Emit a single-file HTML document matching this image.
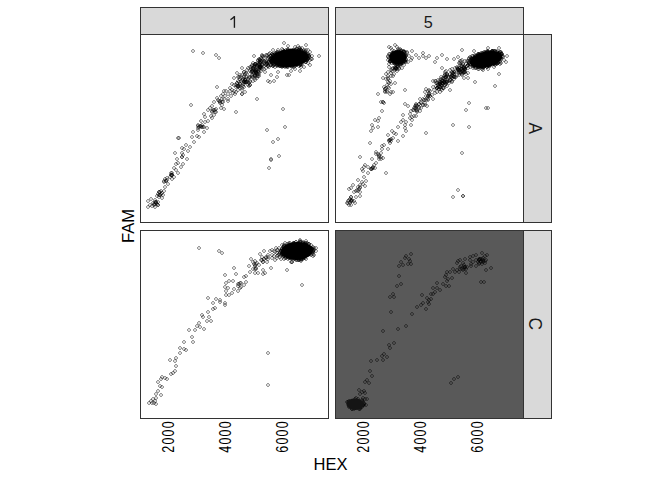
<!DOCTYPE html>
<html><head><meta charset="utf-8"><style>
html,body{margin:0;padding:0;background:#fff;}
svg{display:block;}
text{font-family:"Liberation Sans",sans-serif;}
</style></head><body>
<svg width="672" height="480" viewBox="0 0 672 480">
<rect x="0" y="0" width="672" height="480" fill="#fff"/>
<!-- strips top -->
<rect x="140.5" y="7.5" width="188" height="27" fill="#d9d9d9" stroke="#333" stroke-width="1"/>
<rect x="335.5" y="7.5" width="188" height="27" fill="#d9d9d9" stroke="#333" stroke-width="1"/>
<!-- strips right -->
<rect x="523.5" y="34.5" width="28" height="188" fill="#d9d9d9" stroke="#333" stroke-width="1"/>
<rect x="523.5" y="230.5" width="28" height="188" fill="#d9d9d9" stroke="#333" stroke-width="1"/>
<!-- panels -->
<rect x="140.5" y="34.5" width="188" height="188" fill="#fff"/>
<rect x="335.5" y="34.5" width="188" height="188" fill="#fff"/>
<rect x="140.5" y="230.5" width="188" height="188" fill="#fff"/>
<rect x="335.5" y="230.5" width="188" height="188" fill="#595959"/>
<defs><g id="p"><path d="M1 0h2v1h-2zM1 3h2v1h-2zM0 1h1v2h-1zM3 1h1v2h-1z" fill-opacity=".4"/><rect x="1" y="1" width="2" height="2" fill-opacity=".15"/></g></defs>
<g fill="#000">
<use href="#p" x="191" y="49"/><use href="#p" x="201" y="51"/><use href="#p" x="214" y="53"/><use href="#p" x="217" y="56"/><use href="#p" x="252" y="54"/><use href="#p" x="240" y="66"/><use href="#p" x="246" y="66"/><use href="#p" x="235" y="71"/><use href="#p" x="232" y="76"/><use href="#p" x="215" y="85"/><use href="#p" x="222" y="89"/><use href="#p" x="247" y="84"/><use href="#p" x="242" y="70"/><use href="#p" x="243" y="72"/><use href="#p" x="249" y="67"/><use href="#p" x="252" y="64"/><use href="#p" x="250" y="70"/><use href="#p" x="253" y="72"/><use href="#p" x="250" y="75"/><use href="#p" x="247" y="76"/><use href="#p" x="244" y="77"/><use href="#p" x="241" y="77"/><use href="#p" x="238" y="75"/><use href="#p" x="239" y="79"/><use href="#p" x="236" y="79"/><use href="#p" x="235" y="81"/><use href="#p" x="230" y="82"/><use href="#p" x="232" y="83"/><use href="#p" x="234" y="85"/><use href="#p" x="238" y="84"/><use href="#p" x="242" y="82"/><use href="#p" x="246" y="80"/><use href="#p" x="248" y="79"/><use href="#p" x="253" y="78"/><use href="#p" x="240" y="92"/><use href="#p" x="240" y="92"/><use href="#p" x="230" y="88"/><use href="#p" x="228" y="86"/><use href="#p" x="224" y="89"/><use href="#p" x="221" y="92"/><use href="#p" x="219" y="94"/><use href="#p" x="226" y="92"/><use href="#p" x="229" y="94"/><use href="#p" x="231" y="91"/><use href="#p" x="234" y="90"/><use href="#p" x="236" y="88"/><use href="#p" x="255" y="97"/><use href="#p" x="217" y="99"/><use href="#p" x="218" y="101"/><use href="#p" x="212" y="100"/><use href="#p" x="220" y="103"/><use href="#p" x="222" y="107"/><use href="#p" x="213" y="108"/><use href="#p" x="210" y="104"/><use href="#p" x="208" y="106"/><use href="#p" x="206" y="108"/><use href="#p" x="210" y="110"/><use href="#p" x="212" y="113"/><use href="#p" x="209" y="114"/><use href="#p" x="202" y="112"/><use href="#p" x="203" y="115"/><use href="#p" x="234" y="110"/><use href="#p" x="226" y="97"/><use href="#p" x="222" y="97"/><use href="#p" x="215" y="96"/><use href="#p" x="236" y="75"/><use href="#p" x="228" y="89"/><use href="#p" x="232" y="89"/><use href="#p" x="233" y="92"/><use href="#p" x="223" y="94"/><use href="#p" x="220" y="97"/><use href="#p" x="189" y="103"/><use href="#p" x="219" y="106"/><use href="#p" x="213" y="110"/><use href="#p" x="210" y="116"/><use href="#p" x="199" y="119"/><use href="#p" x="206" y="119"/><use href="#p" x="203" y="120"/><use href="#p" x="196" y="123"/><use href="#p" x="198" y="124"/><use href="#p" x="200" y="125"/><use href="#p" x="205" y="126"/><use href="#p" x="196" y="126"/><use href="#p" x="191" y="130"/><use href="#p" x="202" y="130"/><use href="#p" x="195" y="134"/><use href="#p" x="197" y="135"/><use href="#p" x="190" y="135"/><use href="#p" x="176" y="136"/><use href="#p" x="196" y="128"/><use href="#p" x="202" y="125"/><use href="#p" x="192" y="140"/><use href="#p" x="184" y="143"/><use href="#p" x="188" y="145"/><use href="#p" x="180" y="146"/><use href="#p" x="182" y="147"/><use href="#p" x="186" y="149"/><use href="#p" x="173" y="151"/><use href="#p" x="180" y="151"/><use href="#p" x="181" y="153"/><use href="#p" x="180" y="155"/><use href="#p" x="180" y="155"/><use href="#p" x="185" y="157"/><use href="#p" x="175" y="157"/><use href="#p" x="176" y="161"/><use href="#p" x="174" y="162"/><use href="#p" x="181" y="162"/><use href="#p" x="179" y="165"/><use href="#p" x="172" y="166"/><use href="#p" x="174" y="168"/><use href="#p" x="176" y="171"/><use href="#p" x="170" y="171"/><use href="#p" x="169" y="173"/><use href="#p" x="168" y="175"/><use href="#p" x="172" y="175"/><use href="#p" x="170" y="177"/><use href="#p" x="163" y="177"/><use href="#p" x="162" y="179"/><use href="#p" x="164" y="179"/><use href="#p" x="166" y="182"/><use href="#p" x="163" y="185"/><use href="#p" x="159" y="189"/><use href="#p" x="157" y="190"/><use href="#p" x="156" y="192"/><use href="#p" x="158" y="193"/><use href="#p" x="161" y="193"/><use href="#p" x="155" y="194"/><use href="#p" x="157" y="195"/><use href="#p" x="160" y="196"/><use href="#p" x="162" y="189"/><use href="#p" x="149" y="197"/><use href="#p" x="146" y="199"/><use href="#p" x="153" y="198"/><use href="#p" x="154" y="200"/><use href="#p" x="151" y="201"/><use href="#p" x="152" y="203"/><use href="#p" x="150" y="204"/><use href="#p" x="146" y="205"/><use href="#p" x="148" y="203"/><use href="#p" x="153" y="205"/><use href="#p" x="156" y="203"/><use href="#p" x="281" y="107"/><use href="#p" x="275" y="75"/><use href="#p" x="272" y="79"/><use href="#p" x="266" y="79"/><use href="#p" x="268" y="80"/><use href="#p" x="276" y="70"/><use href="#p" x="269" y="73"/><use href="#p" x="226" y="99"/><use href="#p" x="265" y="128"/><use href="#p" x="283" y="125"/><use href="#p" x="276" y="137"/><use href="#p" x="271" y="140"/><use href="#p" x="277" y="154"/><use href="#p" x="269" y="158"/><use href="#p" x="267" y="166"/><use href="#p" x="282" y="41"/><use href="#p" x="286" y="44"/><use href="#p" x="296" y="44"/><use href="#p" x="304" y="43"/><use href="#p" x="300" y="46"/><use href="#p" x="306" y="48"/><use href="#p" x="310" y="54"/><use href="#p" x="317" y="54"/><use href="#p" x="308" y="63"/><use href="#p" x="308" y="58"/><use href="#p" x="298" y="69"/><use href="#p" x="289" y="69"/><use href="#p" x="285" y="73"/><use href="#p" x="287" y="73"/><use href="#p" x="271" y="48"/><use href="#p" x="275" y="50"/><use href="#p" x="293" y="67"/><use href="#p" x="302" y="65"/>
<use href="#p" x="387" y="45"/><use href="#p" x="389" y="46"/><use href="#p" x="393" y="43"/><use href="#p" x="395" y="45"/><use href="#p" x="398" y="47"/><use href="#p" x="402" y="49"/><use href="#p" x="405" y="50"/><use href="#p" x="407" y="54"/><use href="#p" x="410" y="49"/><use href="#p" x="414" y="53"/><use href="#p" x="417" y="56"/><use href="#p" x="421" y="51"/><use href="#p" x="421" y="54"/><use href="#p" x="410" y="56"/><use href="#p" x="409" y="58"/><use href="#p" x="406" y="60"/><use href="#p" x="402" y="63"/><use href="#p" x="400" y="66"/><use href="#p" x="397" y="67"/><use href="#p" x="395" y="69"/><use href="#p" x="393" y="68"/><use href="#p" x="390" y="67"/><use href="#p" x="387" y="65"/><use href="#p" x="387" y="62"/><use href="#p" x="386" y="58"/><use href="#p" x="386" y="54"/><use href="#p" x="396" y="65"/><use href="#p" x="391" y="74"/><use href="#p" x="386" y="70"/><use href="#p" x="384" y="72"/><use href="#p" x="381" y="76"/><use href="#p" x="386" y="76"/><use href="#p" x="424" y="56"/><use href="#p" x="427" y="54"/><use href="#p" x="395" y="67"/><use href="#p" x="384" y="77"/><use href="#p" x="386" y="80"/><use href="#p" x="393" y="81"/><use href="#p" x="389" y="82"/><use href="#p" x="382" y="85"/><use href="#p" x="383" y="87"/><use href="#p" x="387" y="86"/><use href="#p" x="389" y="90"/><use href="#p" x="388" y="92"/><use href="#p" x="391" y="90"/><use href="#p" x="376" y="92"/><use href="#p" x="403" y="88"/><use href="#p" x="379" y="100"/><use href="#p" x="382" y="101"/><use href="#p" x="380" y="109"/><use href="#p" x="377" y="116"/><use href="#p" x="373" y="118"/><use href="#p" x="376" y="119"/><use href="#p" x="370" y="123"/><use href="#p" x="376" y="125"/><use href="#p" x="371" y="126"/><use href="#p" x="403" y="102"/><use href="#p" x="406" y="104"/><use href="#p" x="401" y="113"/><use href="#p" x="401" y="118"/><use href="#p" x="399" y="120"/><use href="#p" x="403" y="123"/><use href="#p" x="396" y="125"/><use href="#p" x="404" y="120"/><use href="#p" x="408" y="112"/><use href="#p" x="409" y="109"/><use href="#p" x="410" y="118"/><use href="#p" x="409" y="123"/><use href="#p" x="412" y="114"/><use href="#p" x="411" y="108"/><use href="#p" x="413" y="106"/><use href="#p" x="415" y="104"/><use href="#p" x="417" y="106"/><use href="#p" x="417" y="102"/><use href="#p" x="419" y="101"/><use href="#p" x="421" y="97"/><use href="#p" x="421" y="103"/><use href="#p" x="425" y="104"/><use href="#p" x="424" y="98"/><use href="#p" x="425" y="96"/><use href="#p" x="423" y="90"/><use href="#p" x="424" y="87"/><use href="#p" x="426" y="89"/><use href="#p" x="427" y="92"/><use href="#p" x="428" y="94"/><use href="#p" x="414" y="114"/><use href="#p" x="408" y="116"/><use href="#p" x="460" y="48"/><use href="#p" x="472" y="49"/><use href="#p" x="435" y="56"/><use href="#p" x="440" y="53"/><use href="#p" x="433" y="60"/><use href="#p" x="445" y="57"/><use href="#p" x="452" y="57"/><use href="#p" x="456" y="55"/><use href="#p" x="505" y="54"/><use href="#p" x="504" y="60"/><use href="#p" x="497" y="46"/><use href="#p" x="486" y="46"/><use href="#p" x="497" y="72"/><use href="#p" x="493" y="84"/><use href="#p" x="473" y="80"/><use href="#p" x="467" y="101"/><use href="#p" x="464" y="108"/><use href="#p" x="484" y="106"/><use href="#p" x="486" y="106"/><use href="#p" x="451" y="123"/><use href="#p" x="467" y="125"/><use href="#p" x="448" y="88"/><use href="#p" x="466" y="76"/><use href="#p" x="462" y="76"/><use href="#p" x="369" y="129"/><use href="#p" x="390" y="129"/><use href="#p" x="392" y="131"/><use href="#p" x="394" y="132"/><use href="#p" x="386" y="133"/><use href="#p" x="403" y="126"/><use href="#p" x="404" y="129"/><use href="#p" x="401" y="134"/><use href="#p" x="396" y="139"/><use href="#p" x="424" y="131"/><use href="#p" x="368" y="141"/><use href="#p" x="389" y="137"/><use href="#p" x="387" y="139"/><use href="#p" x="388" y="141"/><use href="#p" x="382" y="143"/><use href="#p" x="380" y="144"/><use href="#p" x="386" y="147"/><use href="#p" x="380" y="147"/><use href="#p" x="374" y="150"/><use href="#p" x="376" y="152"/><use href="#p" x="377" y="154"/><use href="#p" x="379" y="155"/><use href="#p" x="381" y="156"/><use href="#p" x="379" y="157"/><use href="#p" x="358" y="155"/><use href="#p" x="370" y="157"/><use href="#p" x="374" y="161"/><use href="#p" x="372" y="163"/><use href="#p" x="371" y="166"/><use href="#p" x="369" y="167"/><use href="#p" x="363" y="163"/><use href="#p" x="362" y="165"/><use href="#p" x="366" y="165"/><use href="#p" x="360" y="167"/><use href="#p" x="361" y="169"/><use href="#p" x="366" y="171"/><use href="#p" x="384" y="171"/><use href="#p" x="362" y="175"/><use href="#p" x="356" y="178"/><use href="#p" x="364" y="179"/><use href="#p" x="360" y="180"/><use href="#p" x="361" y="182"/><use href="#p" x="363" y="184"/><use href="#p" x="358" y="183"/><use href="#p" x="351" y="183"/><use href="#p" x="356" y="185"/><use href="#p" x="349" y="186"/><use href="#p" x="347" y="187"/><use href="#p" x="354" y="189"/><use href="#p" x="352" y="190"/><use href="#p" x="358" y="194"/><use href="#p" x="354" y="195"/><use href="#p" x="349" y="195"/><use href="#p" x="348" y="197"/><use href="#p" x="346" y="199"/><use href="#p" x="345" y="201"/><use href="#p" x="348" y="201"/><use href="#p" x="350" y="199"/><use href="#p" x="353" y="201"/><use href="#p" x="347" y="203"/><use href="#p" x="349" y="203"/><use href="#p" x="460" y="151"/><use href="#p" x="456" y="188"/><use href="#p" x="451" y="195"/><use href="#p" x="461" y="194"/><use href="#p" x="461" y="194"/><use href="#p" x="440" y="66"/><use href="#p" x="443" y="70"/><use href="#p" x="445" y="73"/><use href="#p" x="448" y="68"/><use href="#p" x="450" y="71"/><use href="#p" x="453" y="70"/><use href="#p" x="456" y="66"/><use href="#p" x="457" y="70"/><use href="#p" x="460" y="63"/><use href="#p" x="453" y="75"/><use href="#p" x="448" y="78"/><use href="#p" x="443" y="80"/><use href="#p" x="441" y="76"/><use href="#p" x="439" y="75"/><use href="#p" x="436" y="78"/><use href="#p" x="435" y="81"/><use href="#p" x="431" y="79"/><use href="#p" x="431" y="85"/><use href="#p" x="435" y="86"/><use href="#p" x="438" y="85"/><use href="#p" x="440" y="81"/><use href="#p" x="443" y="83"/><use href="#p" x="438" y="90"/><use href="#p" x="435" y="90"/><use href="#p" x="433" y="91"/><use href="#p" x="430" y="93"/><use href="#p" x="431" y="97"/><use href="#p" x="428" y="89"/><use href="#p" x="426" y="94"/><use href="#p" x="410" y="115"/>
<use href="#p" x="232" y="266"/><use href="#p" x="234" y="272"/><use href="#p" x="231" y="279"/><use href="#p" x="232" y="287"/><use href="#p" x="236" y="289"/><use href="#p" x="237" y="282"/><use href="#p" x="239" y="281"/><use href="#p" x="239" y="285"/><use href="#p" x="242" y="275"/><use href="#p" x="244" y="274"/><use href="#p" x="244" y="280"/><use href="#p" x="247" y="264"/><use href="#p" x="248" y="270"/><use href="#p" x="249" y="257"/><use href="#p" x="251" y="267"/><use href="#p" x="253" y="259"/><use href="#p" x="255" y="261"/><use href="#p" x="256" y="271"/><use href="#p" x="253" y="271"/><use href="#p" x="257" y="263"/><use href="#p" x="258" y="252"/><use href="#p" x="259" y="258"/><use href="#p" x="260" y="255"/><use href="#p" x="261" y="268"/><use href="#p" x="261" y="272"/><use href="#p" x="262" y="249"/><use href="#p" x="262" y="257"/><use href="#p" x="263" y="271"/><use href="#p" x="264" y="256"/><use href="#p" x="265" y="260"/><use href="#p" x="266" y="253"/><use href="#p" x="268" y="249"/><use href="#p" x="269" y="266"/><use href="#p" x="270" y="256"/><use href="#p" x="270" y="248"/><use href="#p" x="272" y="254"/><use href="#p" x="273" y="258"/><use href="#p" x="274" y="246"/><use href="#p" x="275" y="256"/><use href="#p" x="276" y="248"/><use href="#p" x="279" y="257"/><use href="#p" x="280" y="243"/><use href="#p" x="283" y="241"/><use href="#p" x="285" y="268"/><use href="#p" x="289" y="260"/><use href="#p" x="298" y="238"/><use href="#p" x="300" y="283"/><use href="#p" x="311" y="245"/><use href="#p" x="312" y="253"/><use href="#p" x="197" y="246"/><use href="#p" x="217" y="249"/><use href="#p" x="220" y="251"/><use href="#p" x="223" y="273"/><use href="#p" x="227" y="279"/><use href="#p" x="224" y="281"/><use href="#p" x="223" y="285"/><use href="#p" x="226" y="286"/><use href="#p" x="224" y="289"/><use href="#p" x="230" y="291"/><use href="#p" x="227" y="293"/><use href="#p" x="224" y="293"/><use href="#p" x="206" y="296"/><use href="#p" x="214" y="297"/><use href="#p" x="218" y="298"/><use href="#p" x="218" y="300"/><use href="#p" x="211" y="301"/><use href="#p" x="223" y="301"/><use href="#p" x="223" y="303"/><use href="#p" x="213" y="306"/><use href="#p" x="211" y="307"/><use href="#p" x="206" y="310"/><use href="#p" x="200" y="313"/><use href="#p" x="201" y="315"/><use href="#p" x="207" y="315"/><use href="#p" x="205" y="319"/><use href="#p" x="209" y="319"/><use href="#p" x="197" y="321"/><use href="#p" x="195" y="324"/><use href="#p" x="193" y="328"/><use href="#p" x="198" y="325"/><use href="#p" x="202" y="327"/><use href="#p" x="187" y="328"/><use href="#p" x="190" y="335"/><use href="#p" x="191" y="340"/><use href="#p" x="182" y="340"/><use href="#p" x="178" y="346"/><use href="#p" x="182" y="347"/><use href="#p" x="184" y="348"/><use href="#p" x="178" y="351"/><use href="#p" x="174" y="356"/><use href="#p" x="173" y="359"/><use href="#p" x="168" y="358"/><use href="#p" x="174" y="364"/><use href="#p" x="173" y="369"/><use href="#p" x="171" y="371"/><use href="#p" x="169" y="372"/><use href="#p" x="160" y="375"/><use href="#p" x="163" y="376"/><use href="#p" x="165" y="377"/><use href="#p" x="159" y="377"/><use href="#p" x="156" y="380"/><use href="#p" x="158" y="384"/><use href="#p" x="160" y="385"/><use href="#p" x="156" y="389"/><use href="#p" x="154" y="392"/><use href="#p" x="159" y="393"/><use href="#p" x="154" y="396"/><use href="#p" x="151" y="397"/><use href="#p" x="149" y="399"/><use href="#p" x="147" y="401"/><use href="#p" x="150" y="401"/><use href="#p" x="152" y="401"/><use href="#p" x="154" y="402"/><use href="#p" x="153" y="399"/><use href="#p" x="266" y="351"/><use href="#p" x="266" y="383"/>
<use href="#p" x="409" y="252"/><use href="#p" x="404" y="254"/><use href="#p" x="403" y="256"/><use href="#p" x="407" y="257"/><use href="#p" x="408" y="259"/><use href="#p" x="399" y="260"/><use href="#p" x="406" y="262"/><use href="#p" x="409" y="262"/><use href="#p" x="401" y="263"/><use href="#p" x="397" y="264"/><use href="#p" x="397" y="274"/><use href="#p" x="399" y="282"/><use href="#p" x="395" y="284"/><use href="#p" x="391" y="292"/><use href="#p" x="388" y="295"/><use href="#p" x="392" y="295"/><use href="#p" x="389" y="310"/><use href="#p" x="404" y="324"/><use href="#p" x="420" y="293"/><use href="#p" x="425" y="296"/><use href="#p" x="429" y="292"/><use href="#p" x="421" y="301"/><use href="#p" x="419" y="303"/><use href="#p" x="426" y="300"/><use href="#p" x="415" y="305"/><use href="#p" x="424" y="307"/><use href="#p" x="410" y="312"/><use href="#p" x="480" y="251"/><use href="#p" x="474" y="253"/><use href="#p" x="471" y="254"/><use href="#p" x="485" y="253"/><use href="#p" x="468" y="255"/><use href="#p" x="483" y="254"/><use href="#p" x="481" y="256"/><use href="#p" x="478" y="257"/><use href="#p" x="484" y="258"/><use href="#p" x="479" y="259"/><use href="#p" x="476" y="260"/><use href="#p" x="474" y="258"/><use href="#p" x="481" y="260"/><use href="#p" x="483" y="261"/><use href="#p" x="477" y="262"/><use href="#p" x="480" y="262"/><use href="#p" x="471" y="260"/><use href="#p" x="469" y="262"/><use href="#p" x="468" y="258"/><use href="#p" x="474" y="264"/><use href="#p" x="469" y="264"/><use href="#p" x="463" y="257"/><use href="#p" x="458" y="258"/><use href="#p" x="456" y="259"/><use href="#p" x="455" y="261"/><use href="#p" x="461" y="261"/><use href="#p" x="462" y="263"/><use href="#p" x="459" y="264"/><use href="#p" x="463" y="265"/><use href="#p" x="464" y="267"/><use href="#p" x="458" y="267"/><use href="#p" x="461" y="268"/><use href="#p" x="464" y="271"/><use href="#p" x="457" y="270"/><use href="#p" x="453" y="270"/><use href="#p" x="455" y="268"/><use href="#p" x="451" y="267"/><use href="#p" x="448" y="270"/><use href="#p" x="445" y="270"/><use href="#p" x="444" y="273"/><use href="#p" x="443" y="275"/><use href="#p" x="450" y="276"/><use href="#p" x="446" y="277"/><use href="#p" x="445" y="279"/><use href="#p" x="447" y="284"/><use href="#p" x="444" y="284"/><use href="#p" x="441" y="282"/><use href="#p" x="435" y="281"/><use href="#p" x="435" y="286"/><use href="#p" x="438" y="288"/><use href="#p" x="431" y="286"/><use href="#p" x="433" y="290"/><use href="#p" x="431" y="292"/><use href="#p" x="429" y="297"/><use href="#p" x="427" y="298"/><use href="#p" x="427" y="302"/><use href="#p" x="484" y="268"/><use href="#p" x="489" y="266"/><use href="#p" x="479" y="280"/><use href="#p" x="482" y="280"/><use href="#p" x="396" y="327"/><use href="#p" x="381" y="329"/><use href="#p" x="392" y="341"/><use href="#p" x="387" y="343"/><use href="#p" x="388" y="346"/><use href="#p" x="382" y="352"/><use href="#p" x="380" y="354"/><use href="#p" x="385" y="355"/><use href="#p" x="381" y="358"/><use href="#p" x="375" y="358"/><use href="#p" x="369" y="359"/><use href="#p" x="368" y="369"/><use href="#p" x="370" y="374"/><use href="#p" x="365" y="378"/><use href="#p" x="363" y="380"/><use href="#p" x="367" y="381"/><use href="#p" x="357" y="388"/><use href="#p" x="362" y="389"/><use href="#p" x="363" y="391"/><use href="#p" x="358" y="392"/><use href="#p" x="361" y="396"/><use href="#p" x="363" y="397"/><use href="#p" x="365" y="397"/><use href="#p" x="354" y="396"/><use href="#p" x="360" y="398"/><use href="#p" x="364" y="403"/><use href="#p" x="360" y="390"/><use href="#p" x="449" y="381"/><use href="#p" x="452" y="377"/><use href="#p" x="456" y="375"/>
<use href="#p" x="302" y="242"/><use href="#p" x="295" y="258"/><use href="#p" x="281" y="252"/><use href="#p" x="298" y="240"/><use href="#p" x="308" y="250"/><use href="#p" x="280" y="253"/><use href="#p" x="311" y="248"/><use href="#p" x="292" y="241"/><use href="#p" x="308" y="246"/><use href="#p" x="311" y="250"/><use href="#p" x="282" y="248"/><use href="#p" x="283" y="256"/><use href="#p" x="283" y="253"/><use href="#p" x="298" y="256"/><use href="#p" x="280" y="250"/><use href="#p" x="297" y="257"/><use href="#p" x="282" y="252"/><use href="#p" x="309" y="249"/><use href="#p" x="280" y="247"/><use href="#p" x="301" y="257"/><use href="#p" x="305" y="241"/><use href="#p" x="289" y="256"/><use href="#p" x="291" y="241"/><use href="#p" x="281" y="254"/><use href="#p" x="287" y="241"/><use href="#p" x="283" y="246"/><use href="#p" x="304" y="241"/><use href="#p" x="282" y="245"/><use href="#p" x="296" y="256"/><use href="#p" x="282" y="254"/><use href="#p" x="282" y="247"/><use href="#p" x="287" y="242"/><use href="#p" x="282" y="253"/><use href="#p" x="297" y="241"/><use href="#p" x="284" y="255"/><use href="#p" x="310" y="250"/><use href="#p" x="291" y="242"/><use href="#p" x="281" y="245"/><use href="#p" x="302" y="256"/><use href="#p" x="310" y="247"/><use href="#p" x="280" y="248"/><use href="#p" x="297" y="258"/><use href="#p" x="309" y="246"/><use href="#p" x="281" y="252"/><use href="#p" x="282" y="247"/><use href="#p" x="312" y="248"/><use href="#p" x="301" y="241"/><use href="#p" x="294" y="240"/><use href="#p" x="279" y="249"/><use href="#p" x="282" y="253"/><use href="#p" x="304" y="243"/><use href="#p" x="300" y="257"/><use href="#p" x="280" y="251"/><use href="#p" x="287" y="256"/><use href="#p" x="284" y="244"/><use href="#p" x="280" y="252"/><use href="#p" x="297" y="256"/><use href="#p" x="283" y="246"/><use href="#p" x="299" y="240"/><use href="#p" x="301" y="240"/><use href="#p" x="302" y="242"/><use href="#p" x="309" y="253"/><use href="#p" x="308" y="249"/><use href="#p" x="296" y="258"/><use href="#p" x="285" y="244"/><use href="#p" x="308" y="252"/><use href="#p" x="282" y="248"/><use href="#p" x="293" y="257"/><use href="#p" x="280" y="252"/><use href="#p" x="281" y="251"/><use href="#p" x="286" y="254"/><use href="#p" x="301" y="256"/><use href="#p" x="305" y="244"/><use href="#p" x="299" y="257"/><use href="#p" x="301" y="241"/><use href="#p" x="308" y="249"/><use href="#p" x="292" y="242"/><use href="#p" x="291" y="242"/><use href="#p" x="280" y="247"/><use href="#p" x="308" y="247"/><use href="#p" x="279" y="249"/><use href="#p" x="287" y="243"/><use href="#p" x="282" y="246"/><use href="#p" x="285" y="244"/><use href="#p" x="291" y="256"/><use href="#p" x="306" y="242"/><use href="#p" x="304" y="242"/><use href="#p" x="308" y="245"/><use href="#p" x="282" y="254"/><use href="#p" x="309" y="249"/><use href="#p" x="311" y="250"/><use href="#p" x="310" y="246"/><use href="#p" x="303" y="256"/><use href="#p" x="311" y="247"/><use href="#p" x="279" y="249"/><use href="#p" x="287" y="256"/><use href="#p" x="288" y="243"/><use href="#p" x="300" y="256"/><use href="#p" x="288" y="243"/><use href="#p" x="281" y="250"/><use href="#p" x="304" y="243"/><use href="#p" x="311" y="249"/><use href="#p" x="289" y="256"/><use href="#p" x="298" y="240"/><use href="#p" x="299" y="257"/><use href="#p" x="303" y="241"/><use href="#p" x="286" y="257"/><use href="#p" x="288" y="241"/><use href="#p" x="310" y="247"/><use href="#p" x="292" y="241"/><use href="#p" x="302" y="255"/><use href="#p" x="299" y="258"/><use href="#p" x="282" y="244"/><use href="#p" x="284" y="256"/><use href="#p" x="292" y="257"/><use href="#p" x="282" y="244"/><use href="#p" x="307" y="242"/><use href="#p" x="282" y="247"/><use href="#p" x="308" y="250"/><use href="#p" x="303" y="243"/><use href="#p" x="304" y="239"/><use href="#p" x="282" y="243"/><use href="#p" x="282" y="257"/><use href="#p" x="299" y="259"/><use href="#p" x="294" y="258"/><use href="#p" x="277" y="246"/><use href="#p" x="276" y="253"/><use href="#p" x="298" y="239"/><use href="#p" x="314" y="249"/><use href="#p" x="311" y="254"/><use href="#p" x="307" y="242"/><use href="#p" x="297" y="258"/><use href="#p" x="278" y="255"/><use href="#p" x="304" y="257"/><use href="#p" x="294" y="240"/><use href="#p" x="309" y="243"/><use href="#p" x="312" y="246"/><use href="#p" x="290" y="260"/><use href="#p" x="278" y="251"/><use href="#p" x="285" y="242"/><use href="#p" x="311" y="249"/><use href="#p" x="290" y="260"/><use href="#p" x="278" y="253"/><use href="#p" x="311" y="252"/><use href="#p" x="314" y="246"/><use href="#p" x="362" y="401"/><use href="#p" x="360" y="405"/><use href="#p" x="353" y="397"/><use href="#p" x="350" y="407"/><use href="#p" x="347" y="399"/><use href="#p" x="358" y="407"/><use href="#p" x="347" y="405"/><use href="#p" x="362" y="402"/><use href="#p" x="345" y="400"/><use href="#p" x="352" y="407"/><use href="#p" x="361" y="403"/><use href="#p" x="350" y="407"/><use href="#p" x="360" y="399"/><use href="#p" x="346" y="400"/><use href="#p" x="361" y="403"/><use href="#p" x="358" y="406"/><use href="#p" x="362" y="403"/><use href="#p" x="357" y="407"/><use href="#p" x="356" y="397"/><use href="#p" x="361" y="400"/><use href="#p" x="273" y="55"/><use href="#p" x="275" y="52"/><use href="#p" x="304" y="58"/><use href="#p" x="295" y="49"/><use href="#p" x="290" y="64"/><use href="#p" x="269" y="59"/><use href="#p" x="270" y="59"/><use href="#p" x="299" y="62"/><use href="#p" x="299" y="49"/><use href="#p" x="286" y="48"/><use href="#p" x="305" y="58"/><use href="#p" x="272" y="53"/><use href="#p" x="304" y="56"/><use href="#p" x="270" y="59"/><use href="#p" x="301" y="49"/><use href="#p" x="303" y="50"/><use href="#p" x="293" y="48"/><use href="#p" x="303" y="51"/><use href="#p" x="304" y="60"/><use href="#p" x="292" y="63"/><use href="#p" x="271" y="61"/><use href="#p" x="283" y="65"/><use href="#p" x="276" y="63"/><use href="#p" x="274" y="53"/><use href="#p" x="302" y="50"/><use href="#p" x="304" y="51"/><use href="#p" x="307" y="54"/><use href="#p" x="298" y="63"/><use href="#p" x="306" y="52"/><use href="#p" x="271" y="54"/><use href="#p" x="293" y="64"/><use href="#p" x="271" y="53"/><use href="#p" x="303" y="58"/><use href="#p" x="307" y="54"/><use href="#p" x="292" y="49"/><use href="#p" x="298" y="62"/><use href="#p" x="289" y="48"/><use href="#p" x="306" y="57"/><use href="#p" x="305" y="57"/><use href="#p" x="280" y="64"/><use href="#p" x="307" y="53"/><use href="#p" x="305" y="54"/><use href="#p" x="303" y="58"/><use href="#p" x="305" y="56"/><use href="#p" x="275" y="61"/><use href="#p" x="298" y="62"/><use href="#p" x="298" y="50"/><use href="#p" x="303" y="53"/><use href="#p" x="275" y="64"/><use href="#p" x="271" y="56"/><use href="#p" x="273" y="52"/><use href="#p" x="275" y="51"/><use href="#p" x="269" y="57"/><use href="#p" x="284" y="48"/><use href="#p" x="284" y="64"/><use href="#p" x="269" y="56"/><use href="#p" x="305" y="55"/><use href="#p" x="273" y="53"/><use href="#p" x="277" y="52"/><use href="#p" x="305" y="58"/><use href="#p" x="271" y="59"/><use href="#p" x="278" y="64"/><use href="#p" x="286" y="47"/><use href="#p" x="302" y="57"/><use href="#p" x="305" y="52"/><use href="#p" x="273" y="59"/><use href="#p" x="281" y="64"/><use href="#p" x="282" y="64"/><use href="#p" x="274" y="53"/><use href="#p" x="277" y="62"/><use href="#p" x="306" y="56"/><use href="#p" x="286" y="48"/><use href="#p" x="291" y="64"/><use href="#p" x="290" y="65"/><use href="#p" x="274" y="60"/><use href="#p" x="303" y="60"/><use href="#p" x="280" y="64"/><use href="#p" x="271" y="61"/><use href="#p" x="298" y="63"/><use href="#p" x="278" y="50"/><use href="#p" x="270" y="60"/><use href="#p" x="300" y="60"/><use href="#p" x="295" y="63"/><use href="#p" x="297" y="48"/><use href="#p" x="286" y="64"/><use href="#p" x="276" y="50"/><use href="#p" x="278" y="64"/><use href="#p" x="285" y="64"/><use href="#p" x="286" y="65"/><use href="#p" x="274" y="61"/><use href="#p" x="274" y="62"/><use href="#p" x="299" y="63"/><use href="#p" x="302" y="52"/><use href="#p" x="307" y="54"/><use href="#p" x="304" y="52"/><use href="#p" x="292" y="65"/><use href="#p" x="297" y="48"/><use href="#p" x="270" y="57"/><use href="#p" x="280" y="63"/><use href="#p" x="303" y="58"/><use href="#p" x="285" y="65"/><use href="#p" x="306" y="57"/><use href="#p" x="281" y="48"/><use href="#p" x="303" y="49"/><use href="#p" x="271" y="53"/><use href="#p" x="287" y="49"/><use href="#p" x="284" y="64"/><use href="#p" x="270" y="56"/><use href="#p" x="303" y="52"/><use href="#p" x="279" y="64"/><use href="#p" x="298" y="49"/><use href="#p" x="291" y="48"/><use href="#p" x="294" y="63"/><use href="#p" x="294" y="48"/><use href="#p" x="291" y="48"/><use href="#p" x="294" y="47"/><use href="#p" x="307" y="55"/><use href="#p" x="299" y="48"/><use href="#p" x="287" y="63"/><use href="#p" x="272" y="56"/><use href="#p" x="272" y="59"/><use href="#p" x="306" y="54"/><use href="#p" x="299" y="60"/><use href="#p" x="302" y="58"/><use href="#p" x="299" y="48"/><use href="#p" x="273" y="57"/><use href="#p" x="282" y="64"/><use href="#p" x="278" y="51"/><use href="#p" x="277" y="63"/><use href="#p" x="281" y="63"/><use href="#p" x="273" y="55"/><use href="#p" x="275" y="63"/><use href="#p" x="295" y="62"/><use href="#p" x="275" y="52"/><use href="#p" x="275" y="63"/><use href="#p" x="274" y="51"/><use href="#p" x="277" y="63"/><use href="#p" x="282" y="49"/><use href="#p" x="282" y="49"/><use href="#p" x="289" y="64"/><use href="#p" x="280" y="47"/><use href="#p" x="272" y="62"/><use href="#p" x="302" y="48"/><use href="#p" x="273" y="65"/><use href="#p" x="293" y="45"/><use href="#p" x="269" y="60"/><use href="#p" x="295" y="47"/><use href="#p" x="304" y="48"/><use href="#p" x="276" y="48"/><use href="#p" x="268" y="54"/><use href="#p" x="271" y="53"/><use href="#p" x="300" y="62"/><use href="#p" x="309" y="57"/><use href="#p" x="304" y="60"/><use href="#p" x="299" y="65"/><use href="#p" x="297" y="48"/><use href="#p" x="298" y="47"/><use href="#p" x="298" y="46"/><use href="#p" x="267" y="52"/><use href="#p" x="310" y="57"/><use href="#p" x="266" y="57"/><use href="#p" x="306" y="61"/><use href="#p" x="308" y="50"/><use href="#p" x="280" y="65"/><use href="#p" x="297" y="46"/><use href="#p" x="297" y="64"/><use href="#p" x="273" y="51"/><use href="#p" x="271" y="64"/><use href="#p" x="272" y="63"/><use href="#p" x="271" y="62"/><use href="#p" x="402" y="59"/><use href="#p" x="400" y="61"/><use href="#p" x="390" y="59"/><use href="#p" x="399" y="48"/><use href="#p" x="397" y="62"/><use href="#p" x="395" y="62"/><use href="#p" x="402" y="59"/><use href="#p" x="402" y="53"/><use href="#p" x="399" y="49"/><use href="#p" x="399" y="62"/><use href="#p" x="391" y="51"/><use href="#p" x="401" y="50"/><use href="#p" x="403" y="59"/><use href="#p" x="392" y="49"/><use href="#p" x="399" y="61"/><use href="#p" x="403" y="59"/><use href="#p" x="402" y="50"/><use href="#p" x="393" y="62"/><use href="#p" x="388" y="52"/><use href="#p" x="401" y="49"/><use href="#p" x="389" y="59"/><use href="#p" x="389" y="58"/><use href="#p" x="393" y="61"/><use href="#p" x="404" y="57"/><use href="#p" x="391" y="51"/><use href="#p" x="389" y="54"/><use href="#p" x="392" y="61"/><use href="#p" x="399" y="62"/><use href="#p" x="398" y="62"/><use href="#p" x="395" y="62"/><use href="#p" x="396" y="49"/><use href="#p" x="389" y="53"/><use href="#p" x="403" y="60"/><use href="#p" x="397" y="61"/><use href="#p" x="390" y="51"/><use href="#p" x="392" y="61"/><use href="#p" x="389" y="57"/><use href="#p" x="394" y="50"/><use href="#p" x="404" y="53"/><use href="#p" x="404" y="54"/><use href="#p" x="394" y="61"/><use href="#p" x="397" y="48"/><use href="#p" x="403" y="53"/><use href="#p" x="399" y="49"/><use href="#p" x="399" y="61"/><use href="#p" x="401" y="60"/><use href="#p" x="403" y="54"/><use href="#p" x="403" y="56"/><use href="#p" x="399" y="60"/><use href="#p" x="390" y="61"/><use href="#p" x="402" y="59"/><use href="#p" x="388" y="59"/><use href="#p" x="403" y="58"/><use href="#p" x="399" y="60"/><use href="#p" x="401" y="61"/><use href="#p" x="389" y="56"/><use href="#p" x="403" y="55"/><use href="#p" x="389" y="54"/><use href="#p" x="389" y="59"/><use href="#p" x="387" y="56"/><use href="#p" x="388" y="59"/><use href="#p" x="388" y="59"/><use href="#p" x="403" y="50"/><use href="#p" x="386" y="55"/><use href="#p" x="396" y="63"/><use href="#p" x="398" y="63"/><use href="#p" x="402" y="50"/><use href="#p" x="404" y="58"/><use href="#p" x="387" y="52"/><use href="#p" x="388" y="60"/><use href="#p" x="390" y="48"/><use href="#p" x="396" y="47"/><use href="#p" x="404" y="60"/><use href="#p" x="402" y="50"/><use href="#p" x="405" y="51"/><use href="#p" x="482" y="50"/><use href="#p" x="499" y="52"/><use href="#p" x="497" y="51"/><use href="#p" x="472" y="62"/><use href="#p" x="473" y="53"/><use href="#p" x="498" y="60"/><use href="#p" x="486" y="64"/><use href="#p" x="470" y="57"/><use href="#p" x="488" y="63"/><use href="#p" x="495" y="52"/><use href="#p" x="494" y="62"/><use href="#p" x="496" y="61"/><use href="#p" x="496" y="60"/><use href="#p" x="492" y="51"/><use href="#p" x="488" y="63"/><use href="#p" x="495" y="49"/><use href="#p" x="497" y="53"/><use href="#p" x="476" y="52"/><use href="#p" x="496" y="52"/><use href="#p" x="499" y="53"/><use href="#p" x="481" y="66"/><use href="#p" x="492" y="62"/><use href="#p" x="497" y="57"/><use href="#p" x="472" y="56"/><use href="#p" x="477" y="53"/><use href="#p" x="480" y="65"/><use href="#p" x="468" y="62"/><use href="#p" x="470" y="61"/><use href="#p" x="499" y="57"/><use href="#p" x="501" y="55"/><use href="#p" x="492" y="49"/><use href="#p" x="486" y="51"/><use href="#p" x="471" y="57"/><use href="#p" x="497" y="57"/><use href="#p" x="497" y="53"/><use href="#p" x="483" y="51"/><use href="#p" x="499" y="51"/><use href="#p" x="476" y="65"/><use href="#p" x="485" y="50"/><use href="#p" x="483" y="51"/><use href="#p" x="493" y="49"/><use href="#p" x="496" y="53"/><use href="#p" x="478" y="64"/><use href="#p" x="497" y="51"/><use href="#p" x="496" y="52"/><use href="#p" x="480" y="65"/><use href="#p" x="492" y="62"/><use href="#p" x="493" y="61"/><use href="#p" x="500" y="54"/><use href="#p" x="497" y="57"/><use href="#p" x="467" y="59"/><use href="#p" x="487" y="64"/><use href="#p" x="490" y="50"/><use href="#p" x="472" y="64"/><use href="#p" x="495" y="52"/><use href="#p" x="471" y="61"/><use href="#p" x="496" y="61"/><use href="#p" x="499" y="52"/><use href="#p" x="486" y="50"/><use href="#p" x="472" y="63"/><use href="#p" x="490" y="51"/><use href="#p" x="471" y="62"/><use href="#p" x="493" y="49"/><use href="#p" x="468" y="63"/><use href="#p" x="481" y="51"/><use href="#p" x="482" y="65"/><use href="#p" x="494" y="61"/><use href="#p" x="498" y="54"/><use href="#p" x="471" y="54"/><use href="#p" x="477" y="65"/><use href="#p" x="483" y="64"/><use href="#p" x="494" y="50"/><use href="#p" x="486" y="50"/><use href="#p" x="477" y="52"/><use href="#p" x="483" y="50"/><use href="#p" x="479" y="52"/><use href="#p" x="470" y="61"/><use href="#p" x="477" y="52"/><use href="#p" x="497" y="52"/><use href="#p" x="470" y="57"/><use href="#p" x="471" y="58"/><use href="#p" x="476" y="53"/><use href="#p" x="489" y="50"/><use href="#p" x="487" y="50"/><use href="#p" x="474" y="54"/><use href="#p" x="490" y="49"/><use href="#p" x="491" y="50"/><use href="#p" x="476" y="52"/><use href="#p" x="500" y="52"/><use href="#p" x="469" y="59"/><use href="#p" x="490" y="51"/><use href="#p" x="468" y="62"/><use href="#p" x="479" y="51"/><use href="#p" x="493" y="63"/><use href="#p" x="469" y="57"/><use href="#p" x="471" y="64"/><use href="#p" x="485" y="50"/><use href="#p" x="480" y="51"/><use href="#p" x="492" y="61"/><use href="#p" x="474" y="54"/><use href="#p" x="477" y="53"/><use href="#p" x="499" y="56"/><use href="#p" x="488" y="64"/><use href="#p" x="494" y="60"/><use href="#p" x="491" y="62"/><use href="#p" x="498" y="56"/><use href="#p" x="474" y="65"/><use href="#p" x="470" y="56"/><use href="#p" x="495" y="51"/><use href="#p" x="474" y="63"/><use href="#p" x="473" y="64"/><use href="#p" x="489" y="51"/><use href="#p" x="498" y="56"/><use href="#p" x="498" y="59"/><use href="#p" x="477" y="65"/><use href="#p" x="498" y="53"/><use href="#p" x="471" y="64"/><use href="#p" x="473" y="54"/><use href="#p" x="494" y="61"/><use href="#p" x="469" y="58"/><use href="#p" x="500" y="52"/><use href="#p" x="476" y="65"/><use href="#p" x="501" y="54"/><use href="#p" x="471" y="58"/><use href="#p" x="495" y="61"/><use href="#p" x="495" y="50"/><use href="#p" x="471" y="63"/><use href="#p" x="482" y="65"/><use href="#p" x="473" y="66"/><use href="#p" x="498" y="50"/><use href="#p" x="485" y="65"/><use href="#p" x="467" y="61"/><use href="#p" x="479" y="65"/><use href="#p" x="467" y="61"/><use href="#p" x="470" y="61"/><use href="#p" x="473" y="55"/><use href="#p" x="481" y="65"/><use href="#p" x="490" y="49"/><use href="#p" x="471" y="59"/><use href="#p" x="496" y="52"/><use href="#p" x="486" y="67"/><use href="#p" x="495" y="62"/><use href="#p" x="481" y="68"/><use href="#p" x="466" y="63"/><use href="#p" x="468" y="55"/><use href="#p" x="499" y="61"/><use href="#p" x="480" y="67"/><use href="#p" x="476" y="67"/><use href="#p" x="467" y="60"/><use href="#p" x="474" y="66"/><use href="#p" x="467" y="56"/><use href="#p" x="485" y="65"/><use href="#p" x="499" y="50"/><use href="#p" x="465" y="59"/><use href="#p" x="485" y="49"/><use href="#p" x="467" y="57"/><use href="#p" x="470" y="54"/><use href="#p" x="498" y="50"/><use href="#p" x="471" y="66"/><use href="#p" x="492" y="65"/><use href="#p" x="491" y="49"/><use href="#p" x="491" y="49"/><use href="#p" x="468" y="65"/><use href="#p" x="486" y="49"/><use href="#p" x="498" y="62"/><use href="#p" x="466" y="59"/><use href="#p" x="477" y="67"/><use href="#p" x="469" y="56"/><use href="#p" x="502" y="58"/><use href="#p" x="490" y="49"/><use href="#p" x="153" y="200"/><use href="#p" x="153" y="202"/><use href="#p" x="154" y="200"/><use href="#p" x="152" y="202"/><use href="#p" x="155" y="202"/><use href="#p" x="154" y="201"/><use href="#p" x="156" y="200"/><use href="#p" x="156" y="203"/><use href="#p" x="160" y="191"/><use href="#p" x="157" y="190"/><use href="#p" x="158" y="190"/><use href="#p" x="157" y="193"/><use href="#p" x="159" y="192"/><use href="#p" x="158" y="193"/><use href="#p" x="165" y="176"/><use href="#p" x="165" y="178"/><use href="#p" x="162" y="180"/><use href="#p" x="164" y="179"/><use href="#p" x="169" y="171"/><use href="#p" x="170" y="173"/><use href="#p" x="169" y="173"/><use href="#p" x="170" y="173"/><use href="#p" x="170" y="173"/><use href="#p" x="200" y="123"/><use href="#p" x="201" y="125"/><use href="#p" x="196" y="124"/><use href="#p" x="199" y="124"/><use href="#p" x="199" y="125"/><use href="#p" x="197" y="125"/><use href="#p" x="214" y="110"/><use href="#p" x="211" y="108"/><use href="#p" x="212" y="108"/><use href="#p" x="214" y="107"/><use href="#p" x="210" y="109"/><use href="#p" x="216" y="98"/><use href="#p" x="221" y="100"/><use href="#p" x="218" y="99"/><use href="#p" x="218" y="100"/><use href="#p" x="220" y="100"/><use href="#p" x="177" y="136"/><use href="#p" x="393" y="66"/><use href="#p" x="391" y="66"/><use href="#p" x="394" y="66"/><use href="#p" x="393" y="65"/><use href="#p" x="393" y="66"/><use href="#p" x="397" y="66"/><use href="#p" x="390" y="69"/><use href="#p" x="396" y="64"/><use href="#p" x="394" y="66"/><use href="#p" x="389" y="71"/><use href="#p" x="393" y="67"/><use href="#p" x="395" y="64"/><use href="#p" x="394" y="66"/><use href="#p" x="389" y="68"/><use href="#p" x="395" y="62"/><use href="#p" x="394" y="67"/><use href="#p" x="349" y="199"/><use href="#p" x="349" y="198"/><use href="#p" x="347" y="198"/><use href="#p" x="349" y="199"/><use href="#p" x="346" y="201"/><use href="#p" x="349" y="195"/><use href="#p" x="350" y="198"/><use href="#p" x="352" y="199"/><use href="#p" x="269" y="157"/><use href="#p" x="481" y="259"/><use href="#p" x="480" y="257"/><use href="#p" x="478" y="257"/><use href="#p" x="479" y="260"/><use href="#p" x="477" y="258"/><use href="#p" x="477" y="257"/><use href="#p" x="477" y="261"/><use href="#p" x="481" y="258"/><use href="#p" x="483" y="259"/><use href="#p" x="477" y="258"/><use href="#p" x="463" y="265"/><use href="#p" x="462" y="267"/><use href="#p" x="458" y="265"/><use href="#p" x="465" y="265"/><use href="#p" x="462" y="265"/><use href="#p" x="460" y="267"/><use href="#p" x="253" y="264"/><use href="#p" x="254" y="262"/><use href="#p" x="253" y="263"/><use href="#p" x="254" y="267"/><use href="#p" x="251" y="260"/><use href="#p" x="252" y="262"/><use href="#p" x="254" y="266"/><use href="#p" x="253" y="267"/><use href="#p" x="266" y="255"/><use href="#p" x="260" y="258"/><use href="#p" x="261" y="260"/><use href="#p" x="266" y="257"/><use href="#p" x="261" y="260"/><use href="#p" x="262" y="257"/><use href="#p" x="264" y="255"/><use href="#p" x="275" y="248"/><use href="#p" x="273" y="250"/><use href="#p" x="270" y="253"/><use href="#p" x="272" y="249"/><use href="#p" x="278" y="250"/><use href="#p" x="275" y="251"/><use href="#p" x="275" y="254"/><use href="#p" x="277" y="252"/><use href="#p" x="242" y="283"/><use href="#p" x="236" y="284"/><use href="#p" x="238" y="286"/><use href="#p" x="236" y="282"/><use href="#p" x="238" y="281"/><use href="#p" x="456" y="68"/><use href="#p" x="460" y="72"/><use href="#p" x="458" y="66"/><use href="#p" x="459" y="70"/><use href="#p" x="460" y="69"/><use href="#p" x="459" y="67"/><use href="#p" x="455" y="65"/><use href="#p" x="459" y="71"/><use href="#p" x="463" y="67"/><use href="#p" x="461" y="71"/><use href="#p" x="462" y="66"/><use href="#p" x="462" y="65"/><use href="#p" x="459" y="64"/><use href="#p" x="463" y="68"/><use href="#p" x="462" y="70"/><use href="#p" x="463" y="67"/><use href="#p" x="460" y="67"/><use href="#p" x="460" y="67"/><use href="#p" x="466" y="63"/><use href="#p" x="463" y="67"/><use href="#p" x="462" y="66"/><use href="#p" x="459" y="67"/><use href="#p" x="387" y="138"/><use href="#p" x="388" y="138"/><use href="#p" x="391" y="136"/><use href="#p" x="389" y="139"/><use href="#p" x="388" y="138"/><use href="#p" x="377" y="153"/><use href="#p" x="377" y="157"/><use href="#p" x="377" y="155"/><use href="#p" x="374" y="152"/><use href="#p" x="379" y="151"/><use href="#p" x="370" y="166"/><use href="#p" x="370" y="167"/><use href="#p" x="369" y="167"/><use href="#p" x="373" y="166"/><use href="#p" x="371" y="165"/><use href="#p" x="355" y="188"/><use href="#p" x="358" y="186"/><use href="#p" x="358" y="185"/><use href="#p" x="358" y="190"/><use href="#p" x="357" y="187"/><use href="#p" x="356" y="189"/><use href="#p" x="381" y="100"/><use href="#p" x="381" y="100"/>
<use href="#p" x="253" y="73"/><use href="#p" x="251" y="70"/><use href="#p" x="243" y="80"/><use href="#p" x="261" y="55"/><use href="#p" x="242" y="85"/><use href="#p" x="243" y="90"/><use href="#p" x="257" y="62"/><use href="#p" x="234" y="83"/><use href="#p" x="237" y="75"/><use href="#p" x="252" y="71"/><use href="#p" x="254" y="69"/><use href="#p" x="257" y="62"/><use href="#p" x="277" y="64"/><use href="#p" x="258" y="59"/><use href="#p" x="244" y="75"/><use href="#p" x="250" y="73"/><use href="#p" x="271" y="56"/><use href="#p" x="245" y="80"/><use href="#p" x="270" y="52"/><use href="#p" x="258" y="65"/><use href="#p" x="241" y="84"/><use href="#p" x="259" y="56"/><use href="#p" x="238" y="82"/><use href="#p" x="242" y="80"/><use href="#p" x="241" y="78"/><use href="#p" x="256" y="61"/><use href="#p" x="244" y="80"/><use href="#p" x="265" y="62"/><use href="#p" x="244" y="80"/><use href="#p" x="258" y="65"/><use href="#p" x="243" y="78"/><use href="#p" x="242" y="70"/><use href="#p" x="238" y="82"/><use href="#p" x="255" y="64"/><use href="#p" x="271" y="57"/><use href="#p" x="264" y="53"/><use href="#p" x="269" y="59"/><use href="#p" x="246" y="83"/><use href="#p" x="248" y="83"/><use href="#p" x="254" y="62"/><use href="#p" x="238" y="86"/><use href="#p" x="261" y="63"/><use href="#p" x="253" y="62"/><use href="#p" x="257" y="57"/><use href="#p" x="257" y="70"/><use href="#p" x="246" y="77"/><use href="#p" x="235" y="84"/><use href="#p" x="235" y="81"/><use href="#p" x="253" y="63"/><use href="#p" x="271" y="64"/><use href="#p" x="258" y="61"/><use href="#p" x="237" y="84"/><use href="#p" x="260" y="63"/><use href="#p" x="259" y="66"/><use href="#p" x="247" y="75"/><use href="#p" x="257" y="72"/><use href="#p" x="264" y="66"/><use href="#p" x="269" y="58"/><use href="#p" x="270" y="61"/><use href="#p" x="266" y="64"/><use href="#p" x="257" y="65"/><use href="#p" x="255" y="63"/><use href="#p" x="275" y="62"/><use href="#p" x="250" y="74"/><use href="#p" x="249" y="70"/><use href="#p" x="260" y="59"/><use href="#p" x="251" y="68"/><use href="#p" x="255" y="72"/><use href="#p" x="240" y="73"/><use href="#p" x="256" y="59"/><use href="#p" x="269" y="59"/><use href="#p" x="268" y="58"/><use href="#p" x="244" y="80"/><use href="#p" x="270" y="60"/><use href="#p" x="253" y="62"/><use href="#p" x="256" y="74"/><use href="#p" x="262" y="64"/><use href="#p" x="240" y="78"/><use href="#p" x="243" y="78"/><use href="#p" x="253" y="70"/><use href="#p" x="270" y="52"/><use href="#p" x="236" y="84"/><use href="#p" x="260" y="62"/><use href="#p" x="260" y="53"/><use href="#p" x="250" y="69"/><use href="#p" x="238" y="73"/><use href="#p" x="258" y="65"/><use href="#p" x="263" y="70"/><use href="#p" x="258" y="61"/><use href="#p" x="238" y="77"/><use href="#p" x="258" y="58"/><use href="#p" x="248" y="75"/><use href="#p" x="258" y="66"/><use href="#p" x="264" y="60"/><use href="#p" x="269" y="56"/><use href="#p" x="253" y="74"/><use href="#p" x="251" y="75"/><use href="#p" x="266" y="64"/><use href="#p" x="258" y="64"/><use href="#p" x="267" y="63"/><use href="#p" x="248" y="83"/><use href="#p" x="273" y="59"/><use href="#p" x="251" y="79"/><use href="#p" x="244" y="71"/><use href="#p" x="256" y="69"/><use href="#p" x="236" y="84"/><use href="#p" x="262" y="56"/><use href="#p" x="261" y="54"/><use href="#p" x="256" y="72"/><use href="#p" x="262" y="67"/><use href="#p" x="268" y="51"/><use href="#p" x="254" y="68"/><use href="#p" x="260" y="67"/><use href="#p" x="253" y="64"/><use href="#p" x="267" y="60"/><use href="#p" x="269" y="63"/><use href="#p" x="254" y="64"/><use href="#p" x="251" y="66"/><use href="#p" x="271" y="56"/><use href="#p" x="265" y="61"/><use href="#p" x="258" y="60"/><use href="#p" x="255" y="76"/><use href="#p" x="242" y="74"/><use href="#p" x="255" y="74"/><use href="#p" x="249" y="65"/><use href="#p" x="257" y="66"/><use href="#p" x="260" y="54"/><use href="#p" x="243" y="78"/><use href="#p" x="245" y="72"/><use href="#p" x="260" y="59"/><use href="#p" x="242" y="75"/><use href="#p" x="248" y="69"/><use href="#p" x="250" y="63"/><use href="#p" x="258" y="66"/><use href="#p" x="269" y="63"/><use href="#p" x="247" y="81"/><use href="#p" x="267" y="55"/><use href="#p" x="271" y="60"/><use href="#p" x="265" y="53"/><use href="#p" x="258" y="57"/><use href="#p" x="267" y="61"/><use href="#p" x="241" y="82"/><use href="#p" x="236" y="85"/><use href="#p" x="270" y="59"/><use href="#p" x="254" y="70"/><use href="#p" x="256" y="58"/><use href="#p" x="237" y="80"/><use href="#p" x="251" y="66"/><use href="#p" x="242" y="80"/><use href="#p" x="273" y="56"/><use href="#p" x="240" y="86"/><use href="#p" x="262" y="59"/><use href="#p" x="253" y="68"/><use href="#p" x="240" y="88"/><use href="#p" x="243" y="80"/><use href="#p" x="245" y="68"/><use href="#p" x="252" y="67"/><use href="#p" x="267" y="65"/><use href="#p" x="258" y="65"/><use href="#p" x="257" y="74"/><use href="#p" x="248" y="80"/><use href="#p" x="264" y="63"/><use href="#p" x="271" y="63"/><use href="#p" x="264" y="62"/><use href="#p" x="258" y="58"/><use href="#p" x="248" y="65"/><use href="#p" x="257" y="63"/><use href="#p" x="271" y="57"/><use href="#p" x="259" y="65"/><use href="#p" x="253" y="76"/><use href="#p" x="426" y="98"/><use href="#p" x="414" y="102"/><use href="#p" x="421" y="103"/><use href="#p" x="428" y="94"/><use href="#p" x="414" y="103"/><use href="#p" x="435" y="86"/><use href="#p" x="414" y="106"/><use href="#p" x="422" y="98"/><use href="#p" x="415" y="108"/><use href="#p" x="418" y="109"/><use href="#p" x="413" y="104"/><use href="#p" x="419" y="100"/><use href="#p" x="427" y="88"/><use href="#p" x="432" y="88"/><use href="#p" x="427" y="93"/><use href="#p" x="415" y="110"/><use href="#p" x="437" y="85"/><use href="#p" x="423" y="101"/><use href="#p" x="414" y="104"/><use href="#p" x="426" y="97"/><use href="#p" x="414" y="108"/><use href="#p" x="424" y="94"/><use href="#p" x="422" y="98"/><use href="#p" x="426" y="94"/><use href="#p" x="412" y="106"/><use href="#p" x="427" y="91"/><use href="#p" x="417" y="102"/><use href="#p" x="439" y="87"/><use href="#p" x="417" y="105"/><use href="#p" x="419" y="106"/><use href="#p" x="412" y="108"/><use href="#p" x="418" y="97"/><use href="#p" x="415" y="109"/><use href="#p" x="436" y="82"/><use href="#p" x="423" y="103"/><use href="#p" x="444" y="82"/><use href="#p" x="458" y="61"/><use href="#p" x="438" y="82"/><use href="#p" x="437" y="82"/><use href="#p" x="444" y="80"/><use href="#p" x="450" y="67"/><use href="#p" x="441" y="86"/><use href="#p" x="463" y="70"/><use href="#p" x="465" y="64"/><use href="#p" x="462" y="67"/><use href="#p" x="451" y="71"/><use href="#p" x="445" y="72"/><use href="#p" x="464" y="72"/><use href="#p" x="457" y="71"/><use href="#p" x="439" y="83"/><use href="#p" x="438" y="80"/><use href="#p" x="442" y="80"/><use href="#p" x="445" y="74"/><use href="#p" x="439" y="77"/><use href="#p" x="444" y="75"/><use href="#p" x="465" y="64"/><use href="#p" x="460" y="58"/><use href="#p" x="462" y="70"/><use href="#p" x="440" y="83"/><use href="#p" x="462" y="65"/><use href="#p" x="462" y="66"/><use href="#p" x="441" y="86"/><use href="#p" x="456" y="67"/><use href="#p" x="452" y="72"/><use href="#p" x="455" y="66"/><use href="#p" x="438" y="81"/><use href="#p" x="440" y="79"/><use href="#p" x="450" y="70"/><use href="#p" x="445" y="72"/><use href="#p" x="435" y="86"/><use href="#p" x="443" y="78"/><use href="#p" x="436" y="83"/><use href="#p" x="457" y="61"/><use href="#p" x="452" y="77"/><use href="#p" x="449" y="74"/><use href="#p" x="437" y="87"/><use href="#p" x="457" y="68"/><use href="#p" x="460" y="64"/><use href="#p" x="443" y="75"/><use href="#p" x="438" y="78"/><use href="#p" x="446" y="75"/><use href="#p" x="452" y="70"/><use href="#p" x="440" y="81"/><use href="#p" x="443" y="76"/><use href="#p" x="438" y="82"/><use href="#p" x="458" y="63"/><use href="#p" x="443" y="72"/><use href="#p" x="447" y="79"/><use href="#p" x="463" y="59"/><use href="#p" x="439" y="83"/><use href="#p" x="461" y="62"/><use href="#p" x="435" y="86"/><use href="#p" x="438" y="82"/><use href="#p" x="445" y="78"/><use href="#p" x="460" y="73"/><use href="#p" x="452" y="75"/><use href="#p" x="454" y="75"/><use href="#p" x="459" y="59"/><use href="#p" x="452" y="75"/><use href="#p" x="445" y="80"/><use href="#p" x="433" y="79"/><use href="#p" x="456" y="67"/><use href="#p" x="466" y="71"/><use href="#p" x="449" y="78"/><use href="#p" x="457" y="69"/><use href="#p" x="439" y="85"/><use href="#p" x="449" y="75"/><use href="#p" x="444" y="69"/><use href="#p" x="443" y="81"/><use href="#p" x="445" y="84"/><use href="#p" x="450" y="80"/><use href="#p" x="448" y="72"/><use href="#p" x="461" y="62"/><use href="#p" x="444" y="75"/><use href="#p" x="451" y="71"/><use href="#p" x="438" y="80"/><use href="#p" x="445" y="80"/><use href="#p" x="451" y="74"/><use href="#p" x="458" y="68"/><use href="#p" x="464" y="62"/><use href="#p" x="438" y="82"/><use href="#p" x="437" y="87"/><use href="#p" x="442" y="80"/><use href="#p" x="440" y="78"/><use href="#p" x="449" y="75"/><use href="#p" x="440" y="79"/><use href="#p" x="450" y="79"/><use href="#p" x="440" y="88"/><use href="#p" x="463" y="70"/><use href="#p" x="458" y="70"/><use href="#p" x="442" y="79"/><use href="#p" x="452" y="70"/><use href="#p" x="455" y="73"/><use href="#p" x="463" y="66"/><use href="#p" x="450" y="74"/><use href="#p" x="466" y="66"/><use href="#p" x="447" y="81"/><use href="#p" x="453" y="66"/><use href="#p" x="450" y="76"/><use href="#p" x="461" y="70"/><use href="#p" x="448" y="78"/><use href="#p" x="434" y="81"/><use href="#p" x="445" y="79"/><use href="#p" x="441" y="82"/><use href="#p" x="441" y="81"/><use href="#p" x="434" y="79"/><use href="#p" x="443" y="73"/><use href="#p" x="434" y="84"/><use href="#p" x="443" y="83"/><use href="#p" x="457" y="73"/><use href="#p" x="459" y="67"/><use href="#p" x="436" y="85"/><use href="#p" x="450" y="73"/><use href="#p" x="456" y="68"/><use href="#p" x="441" y="79"/><use href="#p" x="452" y="74"/><use href="#p" x="456" y="67"/><use href="#p" x="442" y="86"/><use href="#p" x="442" y="80"/><use href="#p" x="442" y="76"/><use href="#p" x="438" y="85"/><use href="#p" x="447" y="75"/><use href="#p" x="442" y="74"/><use href="#p" x="458" y="59"/><use href="#p" x="461" y="69"/><use href="#p" x="254" y="71"/><use href="#p" x="269" y="54"/><use href="#p" x="266" y="60"/><use href="#p" x="265" y="62"/><use href="#p" x="253" y="69"/><use href="#p" x="258" y="65"/><use href="#p" x="262" y="59"/><use href="#p" x="264" y="59"/><use href="#p" x="250" y="64"/><use href="#p" x="256" y="70"/><use href="#p" x="272" y="58"/><use href="#p" x="268" y="57"/><use href="#p" x="262" y="60"/><use href="#p" x="254" y="71"/><use href="#p" x="252" y="65"/><use href="#p" x="266" y="56"/><use href="#p" x="265" y="54"/><use href="#p" x="250" y="69"/><use href="#p" x="259" y="59"/><use href="#p" x="265" y="61"/><use href="#p" x="260" y="63"/><use href="#p" x="251" y="67"/><use href="#p" x="269" y="59"/><use href="#p" x="254" y="70"/><use href="#p" x="253" y="74"/><use href="#p" x="258" y="63"/><use href="#p" x="269" y="54"/><use href="#p" x="254" y="68"/><use href="#p" x="253" y="62"/><use href="#p" x="259" y="69"/><use href="#p" x="257" y="68"/><use href="#p" x="251" y="61"/><use href="#p" x="255" y="68"/><use href="#p" x="255" y="65"/><use href="#p" x="270" y="58"/><use href="#p" x="385" y="89"/><use href="#p" x="389" y="74"/><use href="#p" x="383" y="87"/><use href="#p" x="385" y="90"/><use href="#p" x="386" y="85"/><use href="#p" x="386" y="74"/><use href="#p" x="384" y="86"/><use href="#p" x="387" y="81"/><use href="#p" x="388" y="79"/><use href="#p" x="386" y="77"/><use href="#p" x="385" y="83"/><use href="#p" x="383" y="90"/><use href="#p" x="392" y="72"/><use href="#p" x="383" y="89"/>
</g>
<ellipse cx="297" cy="251" rx="16" ry="9" transform="rotate(-3 297 251)" fill="#000"/><ellipse cx="355.3" cy="404.2" rx="9" ry="5.7" transform="rotate(3 355.3 404.2)" fill="#151515"/><ellipse cx="290" cy="58" rx="18.5" ry="9" transform="rotate(-5 290 58)" fill="#000"/><ellipse cx="397.9" cy="57.3" rx="8.5" ry="7.2" transform="rotate(0 397.9 57.3)" fill="#000"/><ellipse cx="486" cy="59.5" rx="16.5" ry="7.8" transform="rotate(-12 486 59.5)" fill="#000"/>
<g fill="none" stroke="#333" stroke-width="1">
<rect x="140.5" y="34.5" width="188" height="188"/>
<rect x="335.5" y="34.5" width="188" height="188"/>
<rect x="140.5" y="230.5" width="188" height="188"/>
<rect x="335.5" y="230.5" width="188" height="188"/>
</g>
<g fill="#1a1a1a" font-size="16.2" text-anchor="middle">
<path d="M233.75 16.1h1.35v11.7h-1.35z" stroke="none"/><path d="M234.6 16.6L230.5 19.7" stroke="#1a1a1a" stroke-width="1.35" fill="none"/>
<text transform="translate(428.3,27.8)">5</text>
<text transform="translate(528.8,128.3) rotate(90) scale(1,1.02)" font-size="17.4">A</text>
<text transform="translate(528.9,323.8) rotate(90) scale(1,1.02)" font-size="17.4">C</text>
</g>
<g fill="#000" font-size="14.6" text-anchor="end">
<text transform="translate(174.2,420.2) rotate(-90) scale(0.86,1.12)" letter-spacing="1.35">2000</text>
<text transform="translate(231.2,420.2) rotate(-90) scale(0.86,1.12)" letter-spacing="1.35">4000</text>
<text transform="translate(288.2,420.2) rotate(-90) scale(0.86,1.12)" letter-spacing="1.35">6000</text>
<text transform="translate(369.2,420.2) rotate(-90) scale(0.86,1.12)" letter-spacing="1.35">2000</text>
<text transform="translate(426.2,420.2) rotate(-90) scale(0.86,1.12)" letter-spacing="1.35">4000</text>
<text transform="translate(483.2,420.2) rotate(-90) scale(0.86,1.12)" letter-spacing="1.35">6000</text>
</g>
<g fill="#000" font-size="16.5" text-anchor="middle">
<text x="330.5" y="470">HEX</text>
<text transform="translate(134,226) rotate(-90)">FAM</text>
</g>
</svg>
</body></html>
